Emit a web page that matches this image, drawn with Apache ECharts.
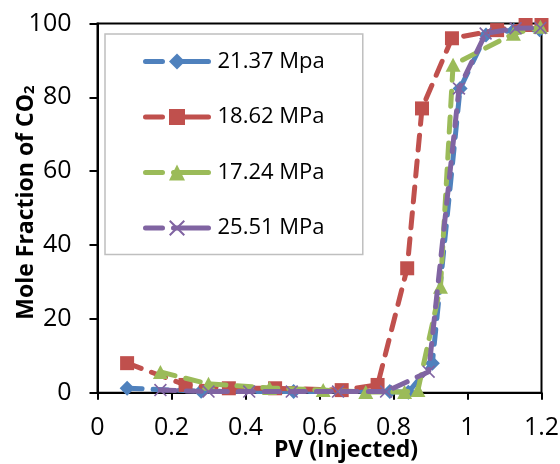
<!DOCTYPE html>
<html>
<head>
<meta charset="utf-8">
<script src="https://cdn.jsdelivr.net/npm/echarts@6/dist/echarts.min.js"></script>
<style>
  html, body { margin: 0; padding: 0; background: #fff; }
  #chart { width: 560px; height: 464px; }
</style>
</head>
<body>
<div id="chart"></div>
<script>
// ---- data ----
const seriesNames = ['21.37 Mpa', '18.62 MPa', '17.24 MPa', '25.51 MPa'];

const pv_21_37 = [0.08, 0.28, 0.53, 0.79, 0.84, 0.905, 0.98, 1.05, 1.125, 1.195];
const co2_21_37 = [1.2, 0.4, 0.3, 0.3, 0.1, 8.0, 82.4, 96.9, 98.2, 98.3];

const pv_18_62 = [0.08, 0.238, 0.355, 0.48, 0.66, 0.757, 0.837, 0.877, 0.958, 1.08, 1.157, 1.2];
const co2_18_62 = [8.0, 2.1, 1.2, 1.2, 0.7, 2.1, 33.7, 77.0, 96.0, 98.2, 99.6, 99.6];

const pv_17_24 = [0.17, 0.30, 0.465, 0.61, 0.725, 0.83, 0.866, 0.927, 0.961, 1.124, 1.197];
const co2_17_24 = [5.6, 2.4, 1.3, 0.7, 0.2, 0.2, 0.7, 28.7, 88.8, 97.2, 99.1];

const pv_25_51 = [0.17, 0.30, 0.41, 0.525, 0.65, 0.78, 0.895, 0.977, 1.049, 1.13, 1.197];
const co2_25_51 = [0.7, 0.3, 0.3, 0.3, 0.3, 0.3, 5.7, 82.4, 97.3, 98.7, 98.8];

const xTickLabels = ['0', '0.2', '0.4', '0.6', '0.8', '1', '1.2'];
const yTickLabels = ['0', '20', '40', '60', '80', '100'];

const xTitle = 'PV (Injected)';
const yTitle = 'Mole Fraction of CO{s|2}';

// ---- chart ----
const FONT = 'Open Sans';
const colors = ['#4F81BD', '#C0504D', '#9BBB59', '#8064A2'];
const crossPath = 'path://M0,0.9L0.9,0L5,4.1L9.1,0L10,0.9L5.9,5L10,9.1L9.1,10L5,5.9L0.9,10L0,9.1L4.1,5Z';
const symbols = ['diamond', 'rect', 'triangle', crossPath];
const symbolSizes = [[15, 15], [14, 14], [15, 14], [13, 13]];

function pairs(xs, ys) { return xs.map((x, i) => [x, ys[i]]); }
const allData = [
  pairs(pv_21_37, co2_21_37),
  pairs(pv_18_62, co2_18_62),
  pairs(pv_17_24, co2_17_24),
  pairs(pv_25_51, co2_25_51)
];

const chart = echarts.init(document.getElementById('chart'), null, { renderer: 'canvas' });

const option = {
  animation: false,
  backgroundColor: '#fff',
  color: colors,
  grid: {
    left: 97.5, right: 18.5, top: 23.5, bottom: 71.3,
    outerBoundsMode: 'none', containLabel: false,
    show: true, borderColor: '#000', borderWidth: 2, backgroundColor: 'transparent'
  },
  legend: {
    orient: 'vertical',
    left: 105, top: 34,
    padding: [16.5, 38, 15.5, 38],
    itemWidth: 63, itemHeight: 20, itemGap: 33.5,
    backgroundColor: '#fff',
    borderColor: '#BFBFBF', borderWidth: 1.5,
    lineStyle: { width: 5, type: [17, 11, 40, 100], cap: 'round' },
    textStyle: { fontFamily: FONT, fontSize: 22, color: '#000', padding: [0, 0, 0, 4] },
    data: seriesNames
  },
  xAxis: {
    type: 'value', min: 0, max: 1.2, interval: 0.2,
    name: xTitle, nameLocation: 'middle', nameGap: 46, nameMoveOverlap: false,
    nameTextStyle: { fontFamily: FONT, fontSize: 23, fontWeight: 'bold', color: '#000', padding: [0, 0, 0, 53] },
    axisLine: { onZero: false, lineStyle: { color: '#000', width: 2 } },
    axisTick: { show: true, inside: false, length: 7, lineStyle: { color: '#000', width: 2 } },
    axisLabel: {
      fontFamily: FONT, fontSize: 25, color: '#000', margin: 23,
      formatter: function (v) { return xTickLabels[Math.round(v / 0.2)]; }
    },
    splitLine: { show: false }
  },
  yAxis: {
    type: 'value', min: 0, max: 100, interval: 20,
    name: yTitle, nameLocation: 'middle', nameGap: 60, nameMoveOverlap: false,
    nameTextStyle: {
      fontFamily: FONT, fontSize: 23, fontWeight: 'bold', color: '#000',
      padding: [0, 0, 0, 11],
      rich: {
        s: { fontFamily: FONT, fontSize: 15, fontWeight: 'bold', color: '#000', lineHeight: 15, verticalAlign: 'bottom' }
      }
    },
    axisLine: { onZero: false, lineStyle: { color: '#000', width: 2 } },
    axisTick: { show: true, inside: false, length: 8, lineStyle: { color: '#000', width: 2 } },
    axisLabel: {
      fontFamily: FONT, fontSize: 25, color: '#000', margin: 26,
      formatter: function (v) { return yTickLabels[Math.round(v / 20)]; }
    },
    splitLine: { show: false }
  },
  series: seriesNames.map((name, i) => ({
    name: name,
    type: 'line',
    data: allData[i],
    symbol: symbols[i],
    symbolSize: symbolSizes[i],
    showAllSymbol: true,
    clip: false,
    itemStyle: { color: colors[i], borderWidth: 0 },
    lineStyle: { color: colors[i], width: 5, type: [15, 11], cap: 'round' },
    emphasis: { disabled: true },
    z: 2 + i
  }))
};

chart.setOption(option);
</script>
</body>
</html>
